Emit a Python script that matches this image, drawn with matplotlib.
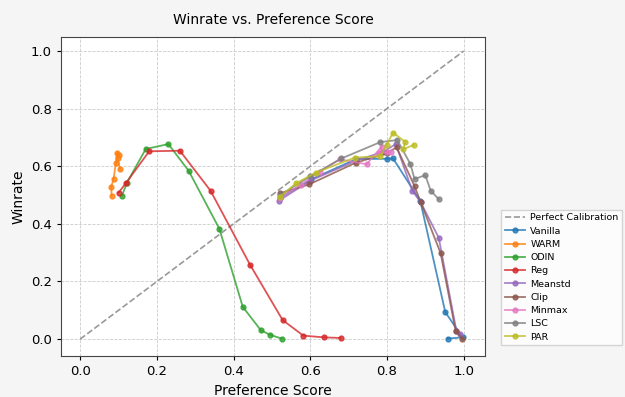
import matplotlib.pyplot as plt
import numpy as np

# series values (preference score, winrate)
vanilla_x = [0.520, 0.603, 0.720, 0.800, 0.816, 0.887, 0.952, 0.997, 0.958]
vanilla_y = [0.490, 0.555, 0.625, 0.626, 0.627, 0.479, 0.094, 0.006, 0.002]

warm_x = [0.082, 0.081, 0.087, 0.093, 0.096, 0.100, 0.098, 0.104]
warm_y = [0.498, 0.529, 0.555, 0.610, 0.647, 0.640, 0.628, 0.589]

odin_x = [0.109, 0.122, 0.171, 0.230, 0.283, 0.363, 0.424, 0.471, 0.495, 0.525]
odin_y = [0.498, 0.543, 0.660, 0.677, 0.584, 0.383, 0.112, 0.031, 0.015, 0.002]

reg_x = [0.100, 0.120, 0.180, 0.260, 0.340, 0.443, 0.528, 0.582, 0.637, 0.679]
reg_y = [0.508, 0.543, 0.652, 0.654, 0.515, 0.258, 0.066, 0.012, 0.006, 0.004]

meanstd_x = [0.519, 0.600, 0.720, 0.790, 0.823, 0.866, 0.888, 0.935, 0.981, 0.990]
meanstd_y = [0.481, 0.550, 0.620, 0.650, 0.677, 0.515, 0.475, 0.352, 0.029, 0.017]

clip_x = [0.521, 0.597, 0.718, 0.800, 0.825, 0.872, 0.888, 0.940, 0.979, 0.996]
clip_y = [0.506, 0.537, 0.612, 0.645, 0.666, 0.531, 0.475, 0.298, 0.029, 0.002]

minmax_x = [0.520, 0.575, 0.625, 0.677, 0.747, 0.786, 0.780, 0.800, 0.810]
minmax_y = [0.490, 0.535, 0.581, 0.624, 0.607, 0.668, 0.645, 0.648, 0.650]

lsc_x = [0.521, 0.600, 0.681, 0.783, 0.827, 0.861, 0.872, 0.900, 0.914, 0.935]
lsc_y = [0.500, 0.565, 0.627, 0.684, 0.691, 0.608, 0.556, 0.569, 0.515, 0.486]

par_x = [0.521, 0.563, 0.614, 0.716, 0.783, 0.799, 0.816, 0.848, 0.842, 0.870]
par_y = [0.494, 0.541, 0.578, 0.630, 0.635, 0.674, 0.717, 0.684, 0.659, 0.674]

names = ['Vanilla', 'WARM', 'ODIN', 'Reg', 'Meanstd', 'Clip', 'Minmax', 'LSC', 'PAR']
xs = [vanilla_x, warm_x, odin_x, reg_x, meanstd_x, clip_x, minmax_x, lsc_x, par_x]
ys = [vanilla_y, warm_y, odin_y, reg_y, meanstd_y, clip_y, minmax_y, lsc_y, par_y]

fig = plt.figure(figsize=(6.25, 3.97), dpi=100, facecolor='#f5f5f5')
ax = fig.add_axes([0.0976, 0.103, 0.678, 0.804])
ax.set_facecolor('white')

ax.plot([0, 1], [0, 1], '--', color='gray', alpha=0.8, linewidth=1.2, label='Perfect Calibration')
for name, x, y in zip(names, xs, ys):
    ax.plot(x, y, marker='o', markersize=3.5, linewidth=1.3, alpha=0.8, label=name)

ax.set_xlim(-0.05, 1.055)
ax.set_ylim(-0.059, 1.049)
ax.grid(True, linestyle='--', color='#cccccc', linewidth=0.6)
for s in ax.spines.values():
    s.set_color('#444444')
ax.tick_params(labelsize=9.5, length=3)
ax.set_xlabel('Preference Score', fontsize=10)
ax.set_ylabel('Winrate', fontsize=10)
ax.set_title('Winrate vs. Preference Score', fontsize=10, pad=9)

fig.legend(*ax.get_legend_handles_labels(), loc='upper left', bbox_to_anchor=(0.794, 0.484),
           fontsize=6.8, frameon=True, fancybox=False, edgecolor='#cccccc',
           handlelength=2.1, handletextpad=0.6, borderpad=0.4, labelspacing=0.45)

plt.savefig('out.png', dpi=100, facecolor=fig.get_facecolor())
